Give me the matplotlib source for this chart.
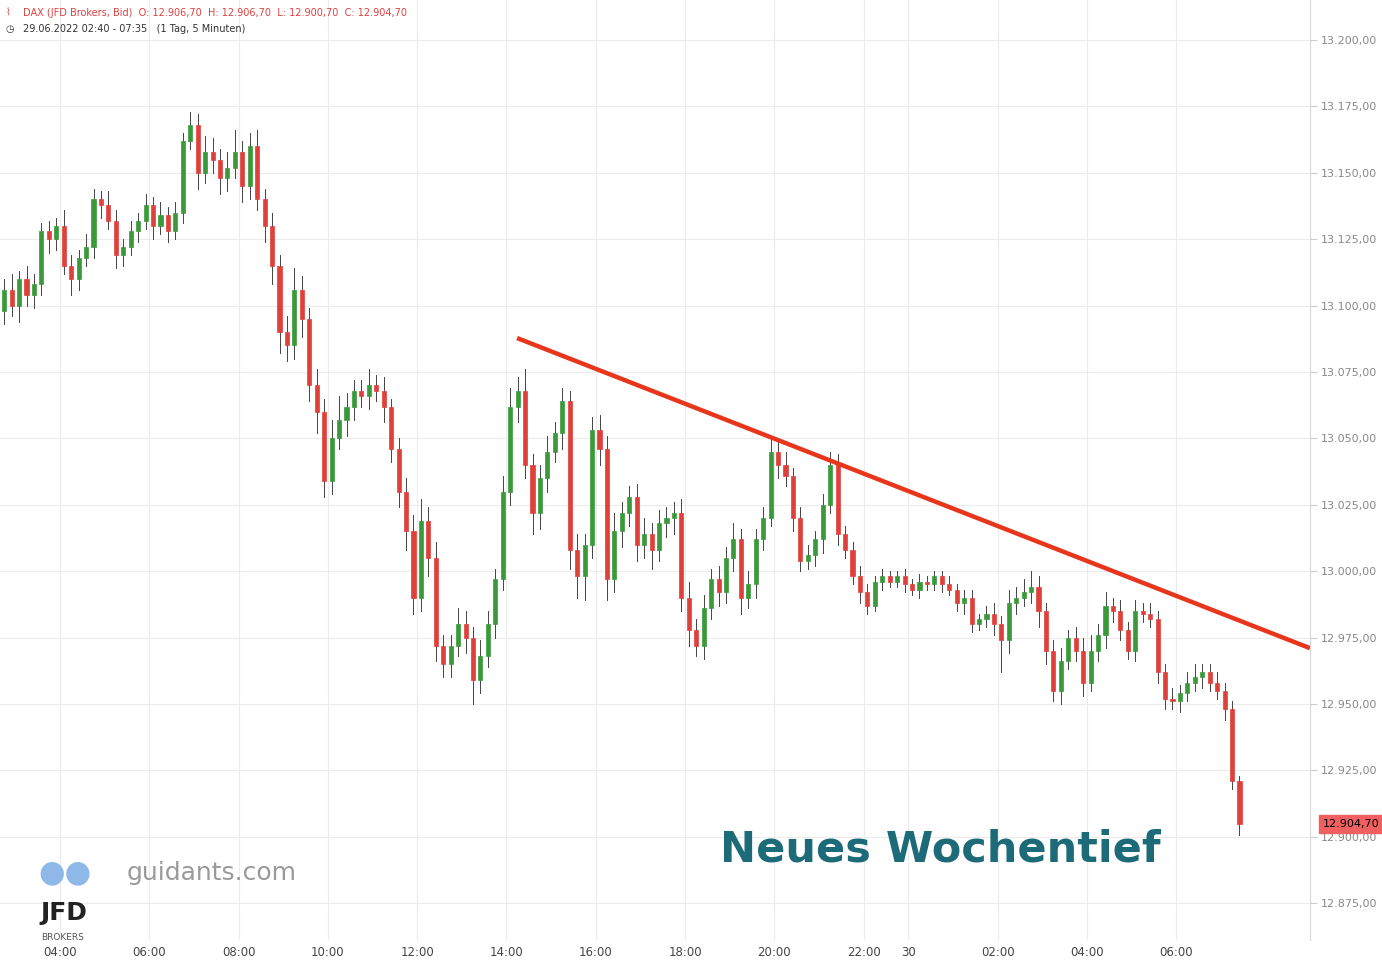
import matplotlib
matplotlib.use("Agg")
import matplotlib.pyplot as plt
from matplotlib.patches import Rectangle

# 10-minute closes from 29.06 02:40 (trading hours, one hour gap skipped at night)
closes = [13106,13100,13110,13104,13108,13128,
          13125,13130,13115,13110,13118,13122,
          13140,13138,13132,13119,13122,13128,
          13132,13138,13130,13134,13128,13135,
          13162,13168,13150,13158,13155,13148,
          13152,13158,13145,13160,13140,13130,
          13115,13090,13085,13106,13095,13070,
          13060,13034,13050,13057,13062,13068,
          13066,13070,13068,13062,13046,13030,
          13015,12990,13019,13005,12972,12965,
          12972,12980,12975,12959,12968,12980,
          12997,13030,13062,13068,13040,13022,
          13035,13045,13052,13064,13008,12998,
          13010,13053,13046,12997,13015,13022,
          13028,13010,13014,13008,13018,13020,
          13022,12990,12978,12972,12986,12997,
          12992,13005,13012,12990,12995,13012,
          13020,13045,13040,13036,13020,13004,
          13006,13012,13025,13040,13014,13008,
          12998,12992,12987,12996,12998,12996,
          12998,12995,12993,12996,12995,12998,
          12995,12993,12988,12990,12980,12982,
          12984,12980,12974,12988,12990,12992,
          12994,12985,12970,12955,12966,12975,
          12970,12958,12970,12976,12987,12985,
          12978,12970,12985,12984,12982,12962,
          12952,12951,12954,12958,12960,12962,
          12958,12955,12948,12921,12904.7]
first_open = 13098
hi_ext = [4,6,3,5,4,3, 4,3,6,4,3,5, 4,3,5,4,3,4, 3,4,3,5,3,4, 3,5,4,6,5,4,
          6,8,4,5,6,4, 5,4,6,8,5,4, 6,5,7,9,5,4, 4,6,4,5,3,4, 5,6,8,5,6,4,
          4,6,5,4,6,5, 4,6,7,5,8,4, 5,6,4,5,4,6, 4,5,6,5,7,4, 4,5,6,4,5,4,
          4,5,6,4,5,4, 5,4,6,4,5,4, 4,5,4,5,3,4, 4,3,4,5,4,3, 3,4,3,2,3,2,
          2,3,2,3,2,2, 2,3,2,3,3,2, 3,4,3,5,4,5, 6,4,3,4,5,3, 4,5,6,4,5,3,
          4,3,4,3,4,3, 3,4,3,4,5,3, 3,4,3,3,2]
lo_ext = [5,4,6,4,5,4, 5,4,3,6,4,3, 4,5,3,5,4,3, 4,3,5,3,4,3, 4,3,6,4,5,6,
          5,4,6,5,4,6, 7,8,6,5,7,6, 8,6,5,4,6,5, 4,5,4,6,5,6, 7,6,5,7,6,5,
          5,4,6,9,5,4, 5,4,5,6,5,8, 6,5,4,6,7,8, 9,5,6,8,5,6, 5,6,5,7,4,5,
          6,5,6,4,5,4, 5,4,5,6,4,5, 4,3,5,4,5,4, 3,4,5,3,4,3, 3,4,3,2,3,2,
          2,3,2,3,2,2, 3,2,3,4,3,2, 3,4,12,5,4,3, 4,6,5,4,5,3, 4,5,3,4,5,4,
          4,3,4,3,3,4, 4,3,4,3,3,4, 3,3,4,3,4]
tick_labels = ["04:00","06:00","08:00","10:00","12:00","14:00","16:00","18:00",
               "20:00","22:00","30","02:00","04:00","06:00"]
tick_hours = [1.333,3.333,5.333,7.333,9.333,11.333,13.333,15.333,17.333,19.333,20.333,22.333,24.333,26.333]
y_ticks = [12875,12900,12925,12950,12975,13000,13025,13050,13075,13100,13125,13150,13175,13200]
trend = ([11.57, 29.33], [13087.8, 12971.0])

fig = plt.figure(figsize=(13.82, 9.65), dpi=100)
ax = fig.add_axes([0, 25/965, 1310/1382, 940/965])
ax.set_xlim(-0.011, 29.33)
ax.set_ylim(12861.1, 13215.1)

GREEN = "#3a9a3a"; RED = "#e0403a"
prev = first_open
bw = 1/6*0.55
for i, c in enumerate(closes):
    o = prev
    x = (i + 0.5) / 6
    hi = max(o, c) + hi_ext[i]
    lo = min(o, c) - lo_ext[i]
    col = GREEN if c >= o else RED
    ax.plot([x, x], [lo, hi], color="#444444", lw=0.7, zorder=2)
    ax.add_patch(Rectangle((x - bw/2, min(o, c)), bw, max(abs(c - o), 0.4),
                           facecolor=col, edgecolor=col, lw=0.5, zorder=3))
    prev = c

ax.plot(trend[0], trend[1], color="#e8361c", lw=3.2, solid_capstyle="butt", zorder=4)

ax.set_xticks(tick_hours)
ax.set_xticklabels(tick_labels)
ax.set_yticks(y_ticks)
ax.yaxis.tick_right()
ax.set_yticklabels([f"{v:,.2f}".replace(",", "X").replace(".", ",").replace("X", ".") for v in y_ticks])
ax.tick_params(axis="y", length=5, color="#cccccc", labelsize=8, labelcolor="#888888", pad=3)
ax.tick_params(axis="x", length=0, labelsize=8.5, labelcolor="#444444", pad=4)
ax.grid(True, color="#ececec", lw=0.8)
for s in ["top", "left", "bottom"]:
    ax.spines[s].set_visible(False)
ax.spines["right"].set_color("#d8d8d8")

lp = closes[-1]
ax.annotate("12.904,70", xy=(1.0, lp), xycoords=("axes fraction", "data"),
            xytext=(9, 0), textcoords="offset points", ha="left", va="center",
            fontsize=8, color="black",
            bbox=dict(boxstyle="square,pad=0.35", fc="#f06060", ec="#f06060"))

fig.text(0.017, 1 - 13/965, "DAX (JFD Brokers, Bid)  O: 12.906,70  H: 12.906,70  L: 12.900,70  C: 12.904,70",
         fontsize=7, color="#e04040", va="center")
fig.text(0.017, 1 - 29/965, "29.06.2022 02:40 - 07:35   (1 Tag, 5 Minuten)",
         fontsize=7, color="#333333", va="center")
fig.text(0.004, 1 - 13/965, "\u2307", fontsize=7, color="#e04040", va="center")
fig.text(0.004, 1 - 29/965, "\u25f7", fontsize=7, color="#333333", va="center")

fig.text(720/1382, 1 - 850/965, "Neues Wochentief", fontsize=31, fontweight="heavy",
         color="#1d6b78", va="center", ha="left")
fig.text(127/1382, 1 - 873/965, "guidants.com", fontsize=18, color="#9a9a9a", va="center")
fig.text(38/1382, 1 - 873/965, "\u25cf\u25cf", fontsize=22, color="#8db8e8", va="center")
fig.text(40/1382, 1 - 913/965, "JFD", fontsize=18, fontweight="bold", color="#222222", va="center")
fig.text(41/1382, 1 - 937/965, "BROKERS", fontsize=6.5, color="#555555", va="center")

fig.savefig("out.png", dpi=100, facecolor="white")
